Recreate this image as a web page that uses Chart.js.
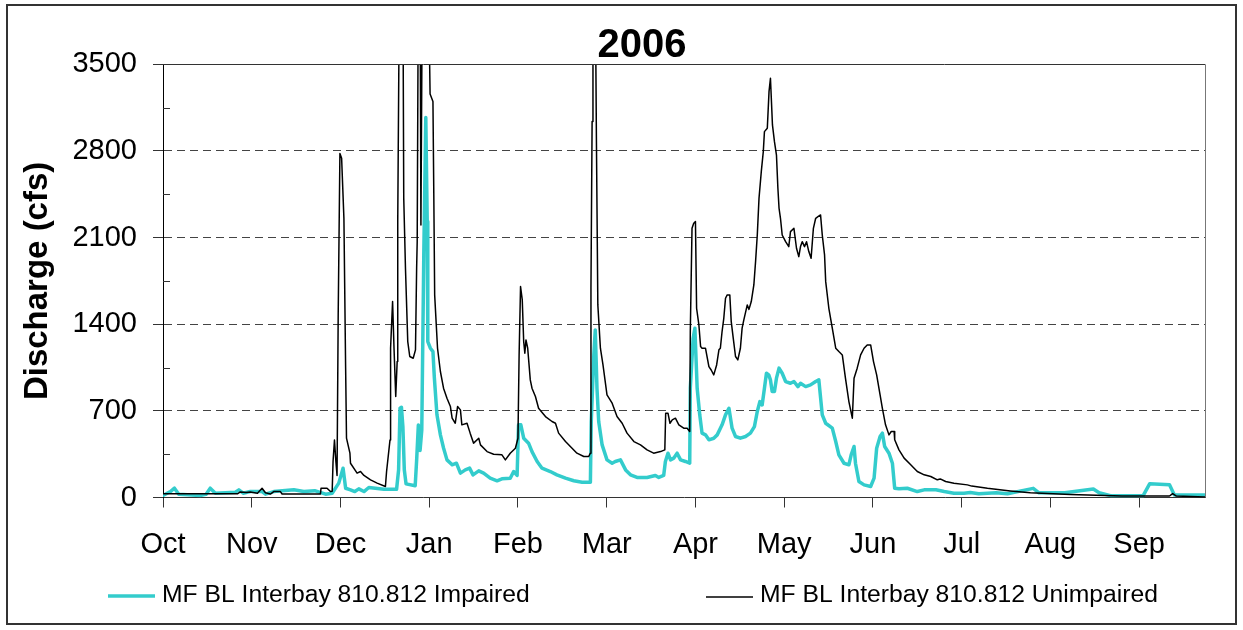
<!DOCTYPE html>
<html>
<head>
<meta charset="utf-8">
<title>MF BL Interbay 810.812 - 2006</title>
<script src="https://cdn.jsdelivr.net/npm/chart.js@4.4.1/dist/chart.umd.min.js"></script>
<style>
  html, body { margin: 0; padding: 0; background: #fff; }
  #wrap { width: 1243px; height: 630px; }
</style>
</head>
<body>
<div id="wrap"><canvas id="flowChart" width="1243" height="630"></canvas></div>
<script>
// water year 2006, x = day of water year (0 = Oct 1), y = discharge in cfs
const chartTitle = '2006';
const monthLabels = ['Oct', 'Nov', 'Dec', 'Jan', 'Feb', 'Mar', 'Apr', 'May', 'Jun', 'Jul', 'Aug', 'Sep'];
const monthTickDays = [0, 31, 62, 93, 124, 155, 186, 217, 248, 279, 310, 341];
const yTickValues = [0, 700, 1400, 2100, 2800, 3500];

const unimpairedDays = [0, 26, 27, 29, 30.5, 33, 34.6, 35.8, 37.5, 38.7,
    41, 41.6, 55, 55.2, 57.3, 58.5, 59.1, 59.4, 59.9, 60.4,
    60.8, 61.2, 61.8, 62.4, 63.2, 63.8, 64.1, 65.3, 65.5, 67.8,
    69, 70.2, 72.5, 74.8, 77.7, 78.1, 79.3, 79.5, 80.2, 80.7,
    81.3, 81.8, 82, 82.6, 83.8, 84.1, 84.7, 85.5, 86.2, 87.4,
    88.2, 88.6, 88.8, 89.2, 89.8, 90.1, 90.6, 92.7, 93.3, 94.3,
    94.6, 94.9, 95.9, 96.9, 98, 99.2, 100.4, 101, 102.1, 102.9,
    103.9, 104.4, 106.2, 107.3, 108.5, 110.3, 110.9, 113.2, 115.5, 118.4,
    119.6, 121.3, 123.1, 124, 124.4, 124.9, 125.5, 126, 126.4, 126.8,
    127.4, 128.3, 128.9, 130.1, 131.2, 133.6, 135.9, 137.1, 138.2, 140.6,
    142.3, 144.6, 147, 148.7, 149.3, 149.5, 149.9, 150.2, 151, 151.4,
    151.9, 152.8, 153.7, 155.1, 156.9, 158.6, 160.4, 162.1, 164.5, 166.8,
    169.1, 171.4, 173.8, 175.3, 175.6, 176.4, 177.1, 177.9, 179, 180.2,
    181.9, 183.1, 184, 184.2, 184.8, 185.4, 186, 186.4, 187.2, 187.8,
    188.3, 189.5, 190.7, 191.5, 192.4, 193.4, 194.2, 194.7, 195.3, 195.9,
    196.5, 197.1, 198, 198.5, 199.2, 200, 200.8, 201.7, 202.3, 202.9,
    204.1, 204.7, 205.5, 206.4, 207, 207.6, 208.2, 209, 209.7, 210.1,
    211.1, 211.7, 212.2, 212.5, 212.9, 213.6, 214.3, 214.8, 215.2, 215.7,
    216.3, 217.5, 218.6, 219.2, 220.4, 221.3, 222.1, 222.7, 223.3, 224.1,
    224.8, 225.6, 226.4, 227.2, 228, 228.8, 229.7, 230.3, 231.1, 231.5,
    232.6, 233.8, 235, 236.1, 237.3, 238.4, 239.6, 240.8, 241.4, 242.5,
    243.7, 244.9, 246, 247.2, 248.2, 249.3, 250.5, 251.3, 252.4, 253.6,
    254.4, 255.4, 255.6, 257.1, 258.9, 261.2, 263.5, 265.9, 268.2, 270.5,
    271.5, 273.4, 276.3, 281, 282.5, 288, 296, 303, 311, 317,
    335, 351.6, 352.7, 354, 364];
const unimpairedCfs = [30, 30, 45, 40, 45, 35, 75, 38, 28, 48,
    48, 28, 28, 75, 75, 48, 50, 290, 465, 290,
    178, 1475, 2780, 2740, 2255, 1045, 480, 358, 277, 197,
    210, 178, 143, 116, 89, 210, 465, 1206, 1583, 1206,
    816, 1098, 2229, 4200, 4200, 2417, 1852, 1260, 1139, 1125,
    1193, 1852, 2067, 4200, 4200, 2202, 4200, 4200, 3260, 3200,
    2440, 1637, 1206, 1018, 883, 802, 735, 641, 600, 735,
    708, 587, 600, 520, 439, 479, 425, 371, 350, 345,
    304, 358, 398, 479, 1152, 1704, 1596, 1260, 1166, 1273,
    1206, 950, 883, 816, 721, 654, 614, 600, 520, 452,
    412, 358, 331, 331, 358, 1690, 3037, 4200, 4200, 2902,
    1556, 1206, 1071, 829, 762, 654, 600, 520, 452, 425,
    385, 358, 371, 385, 681, 681, 600, 627, 641, 587,
    560, 560, 533, 1341, 2175, 2216, 2229, 1529, 1394, 1219,
    1206, 1206, 1058, 1030, 991, 1071, 1193, 1206, 1341, 1448,
    1610, 1637, 1637, 1421, 1287, 1139, 1112, 1206, 1368, 1435,
    1556, 1520, 1583, 1717, 1906, 2121, 2417, 2633, 2794, 2956,
    2983, 3279, 3387, 3225, 3010, 2875, 2767, 2498, 2337, 2256,
    2121, 2067, 2027, 2148, 2175, 2014, 1946, 2027, 2067, 2027,
    2067, 1987, 1933, 2175, 2256, 2269, 2283, 2121, 1960, 1744,
    1529, 1368, 1206, 1179, 1152, 964, 775, 641, 964, 1045,
    1152, 1206, 1233, 1233, 1098, 991, 829, 721, 587, 506,
    533, 533, 466, 385, 318, 264, 210, 183, 170, 143,
    150, 129, 116, 102, 92, 74, 53, 38, 30, 24,
    12, 12, 32, 12, 5];

const impairedDays = [0, 2.6, 4, 5.5, 13, 15, 16.5, 18.3, 25.3, 26.5,
    28, 30.5, 34.6, 35.8, 38.7, 45.7, 49.2, 53, 56.8, 59.1,
    61.4, 62.9, 63.8, 65.5, 67, 68.4, 70.2, 71.9, 77.2, 81.6,
    82.3, 82.8, 83.3, 83.8, 84.3, 84.9, 88.1, 88.6, 89.2, 89.8,
    90.4, 91.1, 91.8, 92.3, 92.5, 93.4, 94.3, 94.8, 95.7, 96.9,
    98, 99.2, 101, 102.5, 103.9, 105.6, 107.1, 108.3, 110.3, 112,
    114.3, 116.7, 118.4, 121.3, 122.5, 123.7, 124.2, 125, 126, 127.7,
    128.9, 130.7, 132.4, 135.3, 137.6, 140.6, 143.5, 146.4, 149.3, 149.6,
    150.5, 151, 151.6, 152.2, 153.4, 155.1, 156.9, 158, 159.8, 161.6,
    163.3, 165.6, 169.1, 172, 173.2, 174.9, 175.5, 176.4, 177.3, 178.4,
    179.6, 180.8, 182.5, 184, 184.2, 185.2, 185.8, 186.6, 187.5, 188.3,
    189.5, 190.7, 192.4, 193.6, 195.3, 196.5, 197.7, 198.8, 200, 201.7,
    203.5, 205.2, 206.6, 207.6, 208.5, 209.3, 210.1, 210.8, 211.6, 212.2,
    212.8, 213.6, 214.3, 215.2, 216.3, 217.5, 219.2, 220.4, 221.8, 222.7,
    224.5, 226.2, 228, 229.1, 230.3, 231.5, 233.8, 235, 236.1, 237.9,
    239.6, 240.4, 241.4, 241.9, 243.1, 244.9, 247.2, 248.4, 249.3, 250.5,
    251.3, 252.1, 253.6, 254.8, 255.6, 257.1, 260, 263.5, 265.9, 270,
    272.9, 276.3, 279.8, 282, 285, 291, 295, 304, 306, 315,
    325, 327, 331, 342.4, 344.7, 351.6, 353.3, 364];
const impairedCfs = [16, 48, 75, 27, 16, 25, 75, 35, 43, 62,
    35, 48, 48, 27, 48, 62, 48, 55, 27, 35,
    116, 237, 75, 62, 48, 70, 48, 81, 67, 67,
    222, 721, 729, 572, 222, 110, 95, 300, 586, 380,
    545, 1960, 3070, 2229, 1260, 1206, 1179, 964, 668, 506,
    400, 304, 264, 277, 197, 223, 237, 183, 215, 197,
    156, 135, 151, 156, 210, 178, 587, 587, 479, 439,
    371, 291, 237, 210, 183, 156, 135, 124, 124, 614,
    1152, 1354, 883, 614, 425, 304, 277, 291, 304, 223,
    183, 162, 162, 178, 162, 178, 291, 358, 304, 318,
    358, 304, 291, 277, 883, 1287, 1368, 883, 668, 520,
    506, 466, 479, 506, 587, 668, 721, 560, 493, 479,
    493, 520, 573, 695, 775, 748, 883, 1004, 991, 950,
    856, 856, 964, 1045, 1004, 937, 923, 937, 896, 923,
    896, 910, 937, 950, 668, 600, 560, 452, 345, 277,
    264, 345, 412, 277, 129, 102, 89, 156, 398, 493,
    520, 412, 358, 277, 75, 70, 75, 48, 62, 62,
    48, 35, 35, 40, 30, 38, 30, 74, 38, 38,
    68, 38, 15, 15, 112, 103, 21, 21];

const FONT = "'Liberation Sans', Arial, sans-serif";

function toPoints(days, values) {
    return days.map((d, i) => ({ x: d, y: values[i] }));
}

// frame, plot border, minor ticks, title and legend
const decorPlugin = {
    id: 'decor',
    beforeDraw(chart) {
        const ctx = chart.ctx;
        ctx.save();
        ctx.fillStyle = '#fff';
        ctx.fillRect(0, 0, chart.width, chart.height);
        ctx.restore();
    },
    afterDraw(chart) {
        const { ctx, chartArea: area, scales } = chart;
        ctx.save();

        // outer frame
        ctx.strokeStyle = '#333';
        ctx.lineWidth = 2;
        ctx.strokeRect(7, 5, 1229, 619);

        // plot area top and right edge
        ctx.lineWidth = 1;
        ctx.strokeStyle = '#333';
        ctx.beginPath();
        ctx.moveTo(area.left, Math.round(area.top) + 0.5);
        ctx.lineTo(area.right, Math.round(area.top) + 0.5);
        ctx.stroke();
        ctx.strokeStyle = '#777';
        ctx.beginPath();
        ctx.moveTo(Math.round(area.right) + 0.5, area.top);
        ctx.lineTo(Math.round(area.right) + 0.5, area.bottom);
        ctx.stroke();

        // minor ticks on the y axis, inside the plot
        ctx.strokeStyle = '#333';
        for (let i = 0; i < yTickValues.length - 1; i++) {
            const mid = (yTickValues[i] + yTickValues[i + 1]) / 2;
            const py = Math.round(scales.y.getPixelForValue(mid)) + 0.5;
            ctx.beginPath();
            ctx.moveTo(area.left, py);
            ctx.lineTo(area.left + 7, py);
            ctx.stroke();
        }

        // title
        ctx.fillStyle = '#000';
        ctx.font = 'bold 40px ' + FONT;
        ctx.textAlign = 'center';
        ctx.textBaseline = 'alphabetic';
        ctx.fillText(chartTitle, 642, 57);

        // legend
        const legendSpots = [{ x: 108, y: 596 }, { x: 706, y: 597 }];
        ctx.font = '24.7px ' + FONT;
        ctx.textAlign = 'left';
        ctx.textBaseline = 'middle';
        chart.data.datasets.forEach((ds, i) => {
            const spot = legendSpots[i];
            ctx.strokeStyle = ds.borderColor;
            ctx.lineWidth = ds.borderWidth;
            ctx.beginPath();
            ctx.moveTo(spot.x, spot.y);
            ctx.lineTo(spot.x + 47, spot.y);
            ctx.stroke();
            ctx.fillStyle = '#000';
            ctx.fillText(ds.label, spot.x + 54, 595);
        });

        ctx.restore();
    }
};

document.addEventListener('DOMContentLoaded', () => {
    const ctx = document.getElementById('flowChart').getContext('2d');

    const data = {
        datasets: [
            {
                label: 'MF BL Interbay 810.812 Impaired',
                data: toPoints(impairedDays, impairedCfs),
                borderColor: '#33CCCC',
                borderWidth: 3.5,
                borderJoinStyle: 'round',
                borderCapStyle: 'round',
                pointRadius: 0,
                tension: 0,
                order: 1
            },
            {
                label: 'MF BL Interbay 810.812 Unimpaired',
                data: toPoints(unimpairedDays, unimpairedCfs),
                borderColor: '#000000',
                borderWidth: 1.5,
                borderJoinStyle: 'round',
                pointRadius: 0,
                tension: 0,
                order: 0
            }
        ]
    };

    const options = {
        responsive: false,
        animation: false,
        devicePixelRatio: 1,
        layout: {
            padding: { left: 0, right: 38, top: 64.3, bottom: 0 }
        },
        plugins: {
            legend: { display: false },
            title: { display: false },
            tooltip: { enabled: false }
        },
        scales: {
            x: {
                type: 'linear',
                min: 0,
                max: 364,
                afterBuildTicks: (scale) => {
                    scale.ticks = monthTickDays.map(v => ({ value: v }));
                },
                afterFit: (scale) => { scale.height = 132.5; },
                ticks: {
                    autoSkip: false,
                    maxRotation: 0,
                    padding: 20,
                    color: '#000',
                    font: { family: FONT, size: 29 },
                    callback: (value) => monthLabels[monthTickDays.indexOf(value)]
                },
                grid: {
                    drawOnChartArea: false,
                    tickLength: 10,
                    tickColor: '#333',
                    tickWidth: 1
                },
                border: { color: '#333', width: 1 }
            },
            y: {
                min: 0,
                max: 3500,
                afterBuildTicks: (scale) => {
                    scale.ticks = yTickValues.map(v => ({ value: v }));
                },
                afterFit: (scale) => { scale.width = 163; },
                ticks: {
                    padding: 16,
                    color: '#000',
                    font: { family: FONT, size: 29 },
                    callback: (value) => String(value)
                },
                grid: {
                    color: (c) => (c.tick && c.tick.value > 0 && c.tick.value < 3500) ? '#444' : 'rgba(0,0,0,0)',
                    lineWidth: 1,
                    tickLength: 10,
                    tickColor: '#333',
                    tickBorderDash: []
                },
                border: { color: '#000', width: 1, dash: [8, 5] },
                title: {
                    display: true,
                    text: 'Discharge (cfs)',
                    color: '#000',
                    font: { family: FONT, size: 33, weight: 'bold' },
                    padding: { top: 18, bottom: 0 }
                }
            }
        }
    };

    new Chart(ctx, {
        type: 'line',
        data: data,
        options: options,
        plugins: [decorPlugin]
    });
});
</script>
</body>
</html>
